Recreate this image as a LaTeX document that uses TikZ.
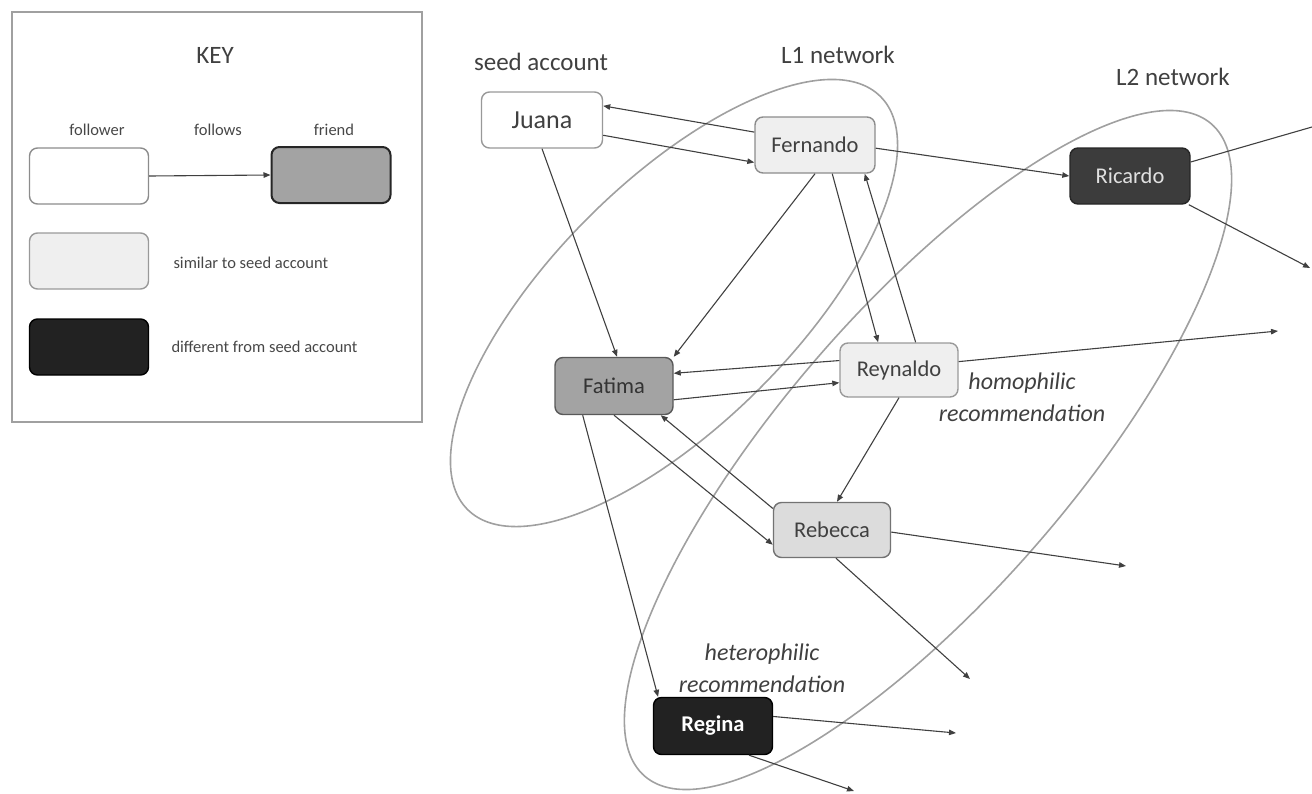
\documentclass[tikz,border=0pt]{standalone}
\usepackage{fontspec}
\setmainfont{Carlito}
\usetikzlibrary{arrows.meta}
\definecolor{inkgray}{HTML}{404040}
\definecolor{ringgray}{HTML}{A0A0A0}
\definecolor{similargray}{HTML}{EFEFEF}
\definecolor{rebeccagray}{HTML}{DCDCDC}
\definecolor{friendgray}{HTML}{A3A3A3}
\definecolor{ricardogray}{HTML}{3C3C3C}
\definecolor{differentgray}{HTML}{222222}

\begin{document}
\begin{tikzpicture}[x=1pt,y=-1pt,
		account/.style={draw=#1,rounded corners=8pt,line width=1.4pt,minimum width=119pt,minimum height=56pt,inner sep=0pt,text=inkgray,font=\fontsize{22.5}{27}\selectfont},
		link/.style={draw=inkgray,line width=1.1pt,-{Triangle[length=7pt,width=5.5pt]}},
		ring/.style={draw=ringgray,line width=1.6pt},
		label/.style={text=inkgray,font=\fontsize{25}{30}\selectfont},
		remark/.style={text=inkgray,align=center,font=\fontsize{24}{32.5}\selectfont\itshape},
		keytext/.style={text=black!72,font=\fontsize{16.5}{19}\selectfont}]
	\useasboundingbox (0,0) rectangle (1312,793);
	\draw[ring,line width=1.4pt] (12,12) rectangle (422,422);
	\node[label] (keytitle) at (215,55) {KEY};
	\node[keytext] (keyfollowerlabel) at (97,130) {follower};
	\node[keytext] (keyfollowslabel) at (218,130) {follows};
	\node[keytext] (keyfriendlabel) at (334,130) {friend};
	\node[account=black!45,fill=white] (keyfollower) at (89,176) {};
	\node[account=black!85,fill=friendgray,line width=2pt] (keyfriend) at (331,175) {};
	\node[account=black!40,fill=similargray] (keysimilar) at (89,261) {};
	\node[account=black,fill=differentgray] (keydifferent) at (89,347) {};
	\node[keytext,anchor=west] (keysimilarlabel) at (170,263) {similar to seed account};
	\node[keytext,anchor=west] (keydifferentlabel) at (168,347) {different from seed account};
	\draw[link] (keyfollower.east) -- (keyfriend.west);

	\draw[ring,rotate around={45:(674,303)}] (674,303) ellipse [x radius=292pt,y radius=121pt];
	\draw[ring,rotate around={49:(928,450)}] (928,450) ellipse [x radius=432pt,y radius=144pt];

	\node[label] (seedlabel) at (541,62) {seed account};
	\node[label] (lonelabel) at (838,55) {L1 network};
	\node[label] (ltwolabel) at (1173,77) {L2 network};
	\node[remark] (homolabel) at (1022,397) {homophilic\\recommendation};
	\node[remark] (heterolabel) at (762,668) {heterophilic\\recommendation};

	\node[account=black!40,fill=white,minimum width=121pt,font=\fontsize{26}{30}\selectfont] (juana) at (542,120) {Juana};
	\node[account=black!45,fill=similargray,minimum width=120pt] (fernando) at (815,145) {Fernando};
	\node[account=black!65,fill=friendgray,text=black!80,minimum width=118pt,minimum height=57pt] (fatima) at (614,386) {Fatima};
	\node[account=black!40,fill=similargray,minimum width=118pt,minimum height=54pt] (reynaldo) at (899,370) {Reynaldo};
	\node[account=black!55,fill=rebeccagray,minimum width=117pt,minimum height=55pt] (rebecca) at (832,530) {Rebecca};
	\node[account=black!85,fill=ricardogray,text=white!88!black,minimum width=120pt] (ricardo) at (1130,176) {Ricardo};
	\node[account=black,fill=differentgray,text=white,minimum height=57pt,font=\fontsize{22.5}{27}\selectfont\bfseries] (regina) at (713,726) {Regina};

	\coordinate (ricardoup) at (1312,127);
	\coordinate (ricardodown) at (1310,268);
	\coordinate (reynaldoout) at (1278,331);
	\coordinate (rebeccaright) at (1126,566);
	\coordinate (rebeccadown) at (970,679);
	\coordinate (reginaright) at (956,733);
	\coordinate (reginadown) at (854,791);

	\draw[link] (fernando.168) -- (juana.13);
	\draw[link] (juana.346) -- (fernando.196);
	\draw[link] (juana.south) -- (fatima.84);
	\draw[link] (fernando.south) -- (fatima.north east);
	\draw[link] (fernando.301) -- (reynaldo.127);
	\draw[link] (reynaldo.59) -- (fernando.330);
	\draw[link] (reynaldo.171) -- (fatima.12);
	\draw[link] (fatima.347) -- (reynaldo.192);
	\draw[link] (fernando.357) -- (ricardo.west);
	\draw[link,-] (ricardo.13) -- (ricardoup);
	\draw[link] (ricardo.334) -- (ricardodown);
	\draw[link] (reynaldo.8) -- (reynaldoout);
	\draw[link] (reynaldo.south) -- (rebecca.80);
	\draw[link] (rebecca.160) -- (fatima.328);
	\draw[link] (fatima.south) -- (rebecca.194);
	\draw[link] (fatima.223) -- (regina.152);
	\draw[link] (rebecca.358) -- (rebeccaright);
	\draw[link] (rebecca.278) -- (rebeccadown);
	\draw[link] (regina.9) -- (reginaright);
	\draw[link] (regina.321) -- (reginadown);
\end{tikzpicture}
\end{document}
